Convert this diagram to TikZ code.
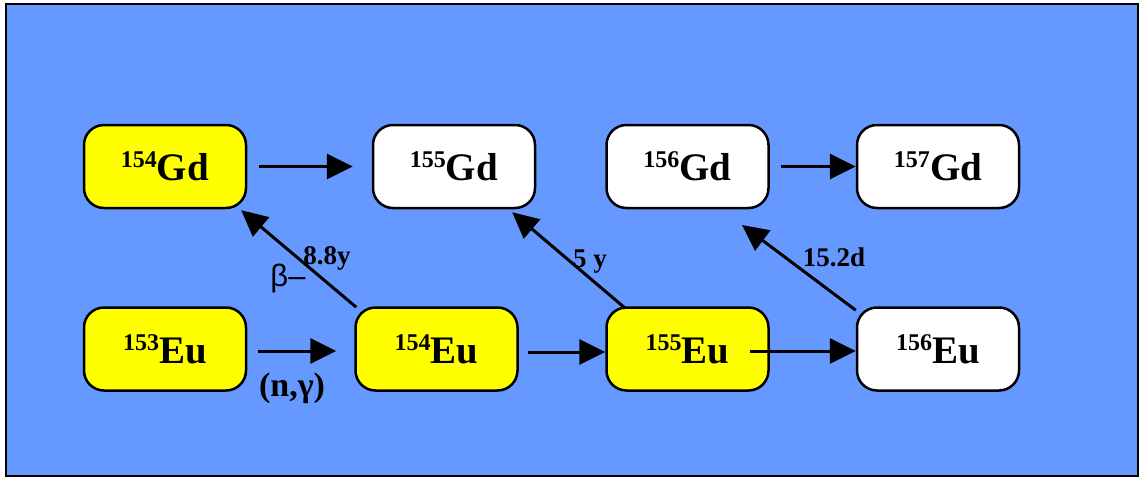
\documentclass[tikz,border=0pt]{standalone}
\usepackage{fontspec}
\setmainfont{Liberation Serif}
\newfontfamily\sansf{Liberation Sans}
\usetikzlibrary{arrows.meta}
\definecolor{bgblue}{HTML}{6699FF}
\definecolor{isoyellow}{HTML}{FFFF00}
\newcommand\isolabel[2]{{\bfseries\fontsize{24}{24}\selectfont\raisebox{13pt}{#1}}{\bfseries\fontsize{39}{39}\selectfont #2}}
\tikzset{
  isobox/.style={draw=black, line width=2.5pt, rounded corners=20pt,
    minimum width=162pt, minimum height=83pt, inner sep=0pt, fill=white},
  stable/.style={isobox, fill=isoyellow},
  react/.style={line width=3pt, -{Triangle[length=26pt,width=25pt]}},
  lbl/.style={inner sep=0pt, font=\bfseries\fontsize{27}{27}\selectfont}
}
\begin{document}
\begin{tikzpicture}[x=1pt,y=-1pt]
\useasboundingbox (0,0) rectangle (1140,479);
\fill[white] (0,0) rectangle (1140,479);
\draw[fill=bgblue, line width=2pt] (6,4) rectangle (1138,476);
% nodes
\node[stable] (g154) at (165,166.5) {\isolabel{154}{Gd}};
\node[isobox] (g155) at (454,166.5) {\isolabel{155}{Gd}};
\node[isobox] (g156) at (687.5,166.5) {\isolabel{156}{Gd}};
\node[isobox] (g157) at (938,166.5) {\isolabel{157}{Gd}};
\node[stable] (e153) at (165,349) {\isolabel{153}{Eu}};
\node[stable] (e154) at (436.5,349) {\isolabel{154}{Eu}};
\node[stable] (e155) at (687.5,349) {\isolabel{155}{Eu}};
\node[isobox] (e156) at (938,349) {\isolabel{156}{Eu}};
\coordinate (t156) at (742,225);
% horizontal arrows
\draw[react] ([xshift=12pt]g154.east) -- ([xshift=-19pt]g155.west);
\draw[react] ([xshift=11pt,yshift=-2pt]e153.east) -- ([xshift=-18pt,yshift=-2pt]e154.west);
\draw[react] ([xshift=9pt,yshift=-3pt]e154.east) -- ([yshift=-3pt]e155.west);
\draw[react] ([xshift=-20pt,yshift=-2pt]e155.east) -- ([yshift=-2pt]e156.west);
\draw[react] ([xshift=11pt]g156.east) -- (g157.west);
% decay arrows
\draw[react] ([xshift=2pt,yshift=-1pt]e154.north west) -- ([xshift=-6pt,yshift=-1pt]g154.south east);
\draw[react] ([xshift=20pt,yshift=-2pt]e155.north west) -- ([xshift=-24pt,yshift=-3pt]g155.south east);
\draw[react] ([yshift=-4pt]e156.north west) -- (t156);
% labels
\node[inner sep=0pt, font=\sansf\fontsize{31}{31}\selectfont] (beta) at (288,278) {β–};
\node[lbl] (hl1) at (327,258) {8.8y};
\node[lbl] (hl2) at (590,262) {5 y};
\node[lbl] (hl3) at (834,257) {15.2d};
\node[lbl, font=\bfseries\fontsize{34}{34}\selectfont] (ng) at (292,388) {(n,γ)};
\end{tikzpicture}
\end{document}
